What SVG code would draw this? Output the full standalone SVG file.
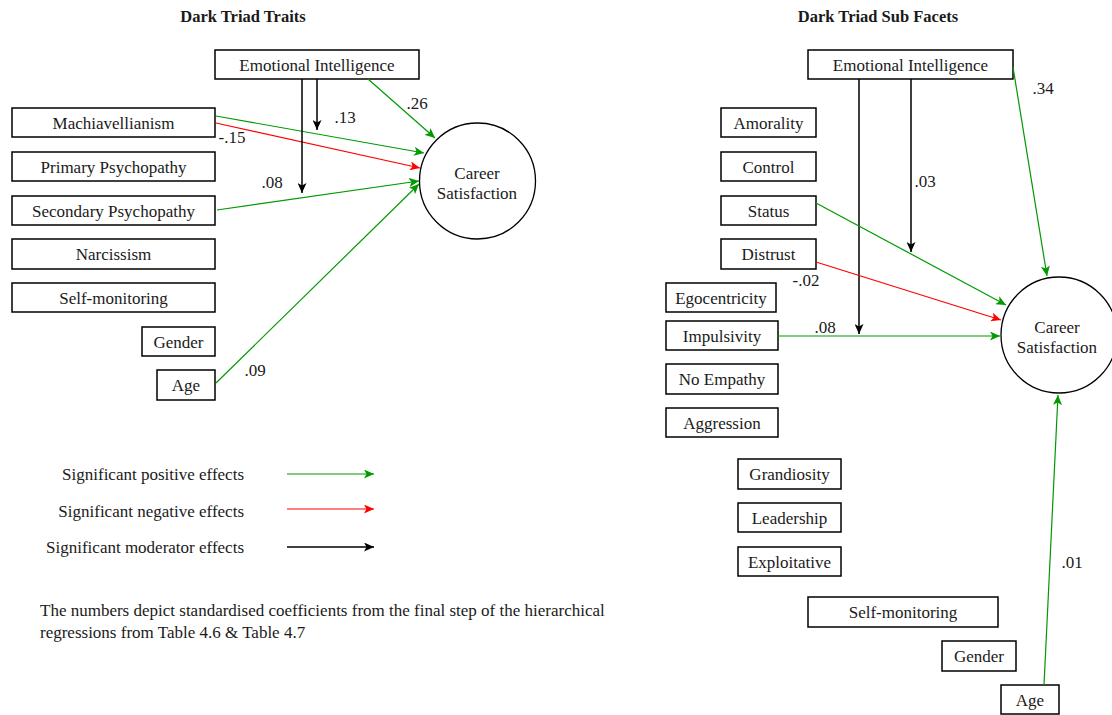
<svg xmlns="http://www.w3.org/2000/svg" width="1112" height="715" viewBox="0 0 1112 715">
<style>
.box{fill:#fff;stroke:#000;stroke-width:1.5}
.lbl{font-family:"Liberation Serif","Times New Roman",serif;font-size:17px;fill:#1a1a1a;text-anchor:middle}
.title{font-family:"Liberation Serif","Times New Roman",serif;font-size:16.5px;font-weight:bold;fill:#1a1a1a;text-anchor:middle}
.num{font-family:"Liberation Serif","Times New Roman",serif;font-size:17px;fill:#1a1a1a;text-anchor:middle}
.cs{font-family:"Liberation Serif","Times New Roman",serif;font-size:17px;fill:#1a1a1a;text-anchor:middle}
.leg{font-family:"Liberation Serif","Times New Roman",serif;font-size:17px;fill:#1a1a1a;text-anchor:end}
.note{font-family:"Liberation Serif","Times New Roman",serif;font-size:17px;fill:#1a1a1a}
.g{stroke:#009900;stroke-width:1.2;fill:none;marker-end:url(#ag)}
.r{stroke:#ff0000;stroke-width:1.2;fill:none;marker-end:url(#ar)}
.k{stroke:#000;stroke-width:1.5;fill:none;marker-end:url(#ak)}
.circ{fill:#fff;stroke:#000;stroke-width:1.3}
</style>
<defs>
<marker id="ag" viewBox="0 0 10 9" markerWidth="10" markerHeight="9" refX="10" refY="4.5" orient="auto" markerUnits="userSpaceOnUse"><path d="M0,0 L10,4.5 L0,9 L2.5,4.5 Z" fill="#009900"/></marker>
<marker id="ar" viewBox="0 0 10 9" markerWidth="10" markerHeight="9" refX="10" refY="4.5" orient="auto" markerUnits="userSpaceOnUse"><path d="M0,0 L10,4.5 L0,9 L2.5,4.5 Z" fill="#ff0000"/></marker>
<marker id="ak" viewBox="0 0 10 9" markerWidth="10" markerHeight="9" refX="10" refY="4.5" orient="auto" markerUnits="userSpaceOnUse"><path d="M0,0 L10,4.5 L0,9 L2.5,4.5 Z" fill="#000"/></marker>
</defs>
<rect width="1112" height="715" fill="#fff"/>

<text class="title" x="243" y="22">Dark Triad Traits</text>
<text class="title" x="878" y="22">Dark Triad Sub Facets</text>

<!-- Left panel nodes -->
<g id="l-ei"><rect class="box" x="215" y="50" width="204" height="29"/><text class="lbl" x="317" y="70.5">Emotional Intelligence</text></g>
<g id="l-mach"><rect class="box" x="12" y="108" width="203" height="29"/><text class="lbl" x="113.5" y="128.5">Machiavellianism</text></g>
<g id="l-pp"><rect class="box" x="12" y="152" width="203" height="29"/><text class="lbl" x="113.5" y="172.5">Primary Psychopathy</text></g>
<g id="l-sp"><rect class="box" x="12" y="196" width="203" height="29"/><text class="lbl" x="113.5" y="216.5">Secondary Psychopathy</text></g>
<g id="l-narc"><rect class="box" x="12" y="239" width="203" height="30"/><text class="lbl" x="113.5" y="260">Narcissism</text></g>
<g id="l-sm"><rect class="box" x="12" y="283" width="203" height="29"/><text class="lbl" x="113.5" y="303.5">Self-monitoring</text></g>
<g id="l-gender"><rect class="box" x="142" y="327" width="73" height="29"/><text class="lbl" x="178.5" y="347.5">Gender</text></g>
<g id="l-age"><rect class="box" x="157" y="370" width="58" height="30"/><text class="lbl" x="186" y="391">Age</text></g>
<g id="l-cs"><circle class="circ" cx="477.5" cy="181" r="58"/><text class="cs" x="477" y="178.5">Career</text><text class="cs" x="477" y="198.5">Satisfaction</text></g>

<!-- Right panel nodes -->
<g id="r-ei"><rect class="box" x="808" y="50" width="205" height="29"/><text class="lbl" x="910.5" y="70.5">Emotional Intelligence</text></g>
<g id="r-amor"><rect class="box" x="721" y="108" width="95" height="29"/><text class="lbl" x="768.5" y="128.5">Amorality</text></g>
<g id="r-control"><rect class="box" x="721" y="152" width="95" height="29"/><text class="lbl" x="768.5" y="172.5">Control</text></g>
<g id="r-status"><rect class="box" x="721" y="196" width="95" height="29"/><text class="lbl" x="768.5" y="216.5">Status</text></g>
<g id="r-distrust"><rect class="box" x="721" y="239" width="95" height="30"/><text class="lbl" x="768.5" y="260">Distrust</text></g>
<g id="r-ego"><rect class="box" x="666" y="283" width="110" height="29"/><text class="lbl" x="721" y="303.5">Egocentricity</text></g>
<g id="r-imp"><rect class="box" x="666" y="321" width="112" height="29"/><text class="lbl" x="722" y="341.5">Impulsivity</text></g>
<g id="r-noemp"><rect class="box" x="666" y="364" width="112" height="30"/><text class="lbl" x="722" y="385">No Empathy</text></g>
<g id="r-aggr"><rect class="box" x="666" y="408" width="112" height="29"/><text class="lbl" x="722" y="428.5">Aggression</text></g>
<g id="r-grand"><rect class="box" x="738" y="459" width="103" height="30"/><text class="lbl" x="789.5" y="480">Grandiosity</text></g>
<g id="r-lead"><rect class="box" x="738" y="503" width="103" height="29"/><text class="lbl" x="789.5" y="523.5">Leadership</text></g>
<g id="r-expl"><rect class="box" x="738" y="547" width="103" height="29"/><text class="lbl" x="789.5" y="567.5">Exploitative</text></g>
<g id="r-sm"><rect class="box" x="808" y="597" width="190" height="30"/><text class="lbl" x="903" y="618">Self-monitoring</text></g>
<g id="r-gender"><rect class="box" x="942" y="641" width="74" height="30"/><text class="lbl" x="979" y="662">Gender</text></g>
<g id="r-age"><rect class="box" x="1001" y="685" width="58" height="29"/><text class="lbl" x="1030" y="705.5">Age</text></g>
<g id="r-cs"><circle class="circ" cx="1059" cy="335" r="58"/><text class="cs" x="1057" y="332.5">Career</text><text class="cs" x="1057" y="352.5">Satisfaction</text></g>

<!-- Connectors -->
<g id="connectors">
<line class="g" x1="368" y1="79" x2="435" y2="138"/>
<line class="g" x1="216" y1="116" x2="424" y2="153"/>
<line class="r" x1="216" y1="123" x2="420" y2="168"/>
<line class="g" x1="217" y1="210" x2="419" y2="181"/>
<line class="g" x1="216" y1="383" x2="419" y2="184"/>
<line class="k" x1="302" y1="79" x2="302" y2="193"/>
<line class="k" x1="317" y1="79" x2="317" y2="130"/>

<line class="g" x1="1013" y1="67" x2="1047" y2="276"/>
<line class="k" x1="859" y1="79" x2="859" y2="334"/>
<line class="k" x1="911" y1="79" x2="911" y2="252"/>
<line class="g" x1="816" y1="203" x2="1006" y2="305"/>
<line class="r" x1="816" y1="262" x2="1001" y2="320"/>
<line class="g" x1="778" y1="336" x2="1000" y2="336"/>
<line class="g" x1="1044" y1="685" x2="1058" y2="395"/>

<line class="g" x1="287" y1="474" x2="374" y2="474"/>
<line class="r" x1="287" y1="509" x2="374" y2="509"/>
<line class="k" x1="287" y1="547" x2="374" y2="547"/>
</g>

<!-- Coefficient labels -->
<text class="num" x="417" y="108.5">.26</text>
<text class="num" x="345" y="122.5">.13</text>
<text class="num" x="232" y="142.5">-.15</text>
<text class="num" x="272" y="187.5">.08</text>
<text class="num" x="255" y="375.5">.09</text>
<text class="num" x="1043" y="93.5">.34</text>
<text class="num" x="925" y="186.5">.03</text>
<text class="num" x="806" y="285.5">-.02</text>
<text class="num" x="825" y="332.5">.08</text>
<text class="num" x="1072" y="567.5">.01</text>

<!-- Legend -->
<text class="leg" x="244" y="480">Significant positive effects</text>
<text class="leg" x="244" y="517">Significant negative effects</text>
<text class="leg" x="244" y="553">Significant moderator effects</text>
<text class="note" x="40" y="616">The numbers depict standardised coefficients from the final step of the hierarchical</text>
<text class="note" x="40" y="638">regressions from Table 4.6 &amp; Table 4.7</text>
</svg>
